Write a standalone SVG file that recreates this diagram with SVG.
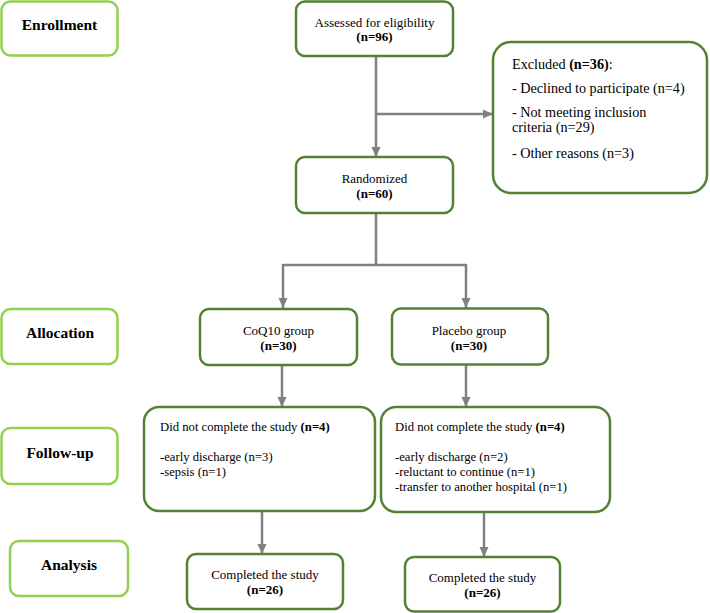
<svg xmlns="http://www.w3.org/2000/svg" width="710" height="613" viewBox="0 0 710 613" font-family="Liberation Serif, Times New Roman, serif">
<defs>
<style>
.lbl{fill:#fff;stroke:#92D050;stroke-width:2.5}
.box{fill:#fff;stroke:#548235;stroke-width:2.5}
.t{font-size:13px;fill:#000}
.c{text-anchor:middle}
.b{font-weight:bold}
.h{font-size:15.5px;font-weight:bold;text-anchor:middle;fill:#000}
.s{font-size:12.7px}
.x{font-size:14.2px}
.ln{fill:none;stroke:#808080;stroke-width:2.5}
</style>
<marker id="ah" markerUnits="userSpaceOnUse" markerWidth="10" markerHeight="10" viewBox="0 0 10 10" refX="10" refY="5" orient="auto">
<path d="M0,0.5 L10,5 L0,9.5 Z" fill="#808080"/>
</marker>
</defs>
<g id="connectors">
<path class="ln" d="M376,56 V157" marker-end="url(#ah)"/>
<path class="ln" d="M376,114 H493" marker-end="url(#ah)"/>
<path class="ln" d="M376,213 V265"/>
<path class="ln" d="M283,265 H466"/>
<path class="ln" d="M283,264 V308" marker-end="url(#ah)"/>
<path class="ln" d="M466,264 V308" marker-end="url(#ah)"/>
<path class="ln" d="M282,365 V407" marker-end="url(#ah)"/>
<path class="ln" d="M466,365 V407" marker-end="url(#ah)"/>
<path class="ln" d="M262,511 V554" marker-end="url(#ah)"/>
<path class="ln" d="M484,512 V557" marker-end="url(#ah)"/>
</g>
<g id="enrollment"><rect class="lbl" x="1.5" y="1.5" width="116" height="54" rx="9"/><text class="h" x="59.5" y="30">Enrollment</text></g>
<g id="allocation"><rect class="lbl" x="1.5" y="309" width="116" height="55" rx="9"/><text class="h" x="60" y="338">Allocation</text></g>
<g id="followup"><rect class="lbl" x="1.5" y="428" width="116" height="56" rx="9"/><text class="h" x="60" y="458">Follow-up</text></g>
<g id="analysis"><rect class="lbl" x="10" y="541" width="118" height="55" rx="9"/><text class="h" x="69" y="570">Analysis</text></g>
<g id="assessed"><rect class="box" x="296" y="1.5" width="157" height="54.5" rx="9"/><text class="t c" x="374.5" y="27">Assessed for eligibility</text><text class="t c b" x="374.5" y="41">(n=96)</text></g>
<g id="excluded"><rect class="box" x="493" y="42" width="214" height="151" rx="18"/>
<text class="t x" x="512" y="69">Excluded <tspan class="b">(n=36)</tspan>:</text>
<text class="t x" x="512" y="93">- Declined to participate (n=4)</text>
<text class="t x" x="512" y="117">- Not meeting inclusion</text>
<text class="t x" x="512" y="132">criteria (n=29)</text>
<text class="t x" x="512" y="158">- Other reasons (n=3)</text></g>
<g id="randomized"><rect class="box" x="296" y="157" width="157" height="56" rx="9"/><text class="t c" x="374.5" y="183">Randomized</text><text class="t c b" x="374.5" y="198">(n=60)</text></g>
<g id="coq10"><rect class="box" x="200" y="309" width="157" height="56" rx="9"/><text class="t c" x="278.5" y="335">CoQ10 group</text><text class="t c b" x="278.5" y="350">(n=30)</text></g>
<g id="placebo"><rect class="box" x="392" y="308.5" width="156" height="56" rx="9"/><text class="t c" x="469" y="335">Placebo group</text><text class="t c b" x="469" y="350">(n=30)</text></g>
<g id="coq10-follow"><rect class="box" x="144" y="407" width="231" height="104" rx="15"/>
<text class="t s" x="160" y="431">Did not complete the study <tspan class="b">(n=4)</tspan></text>
<text class="t s" x="160" y="461">-early discharge (n=3)</text>
<text class="t s" x="160" y="476">-sepsis (n=1)</text></g>
<g id="placebo-follow"><rect class="box" x="381" y="407" width="229" height="105" rx="15"/>
<text class="t s" x="395" y="431">Did not complete the study <tspan class="b">(n=4)</tspan></text>
<text class="t s" x="395" y="461">-early discharge (n=2)</text>
<text class="t s" x="395" y="476">-reluctant to continue (n=1)</text>
<text class="t s" x="395" y="491">-transfer to another hospital (n=1)</text></g>
<g id="coq10-complete"><rect class="box" x="187" y="554" width="156" height="55" rx="9"/><text class="t c" x="265" y="579">Completed the study</text><text class="t c b" x="265" y="594">(n=26)</text></g>
<g id="placebo-complete"><rect class="box" x="405" y="557" width="155" height="54.5" rx="9"/><text class="t c" x="482.5" y="582">Completed the study</text><text class="t c b" x="482.5" y="597">(n=26)</text></g>
</svg>
